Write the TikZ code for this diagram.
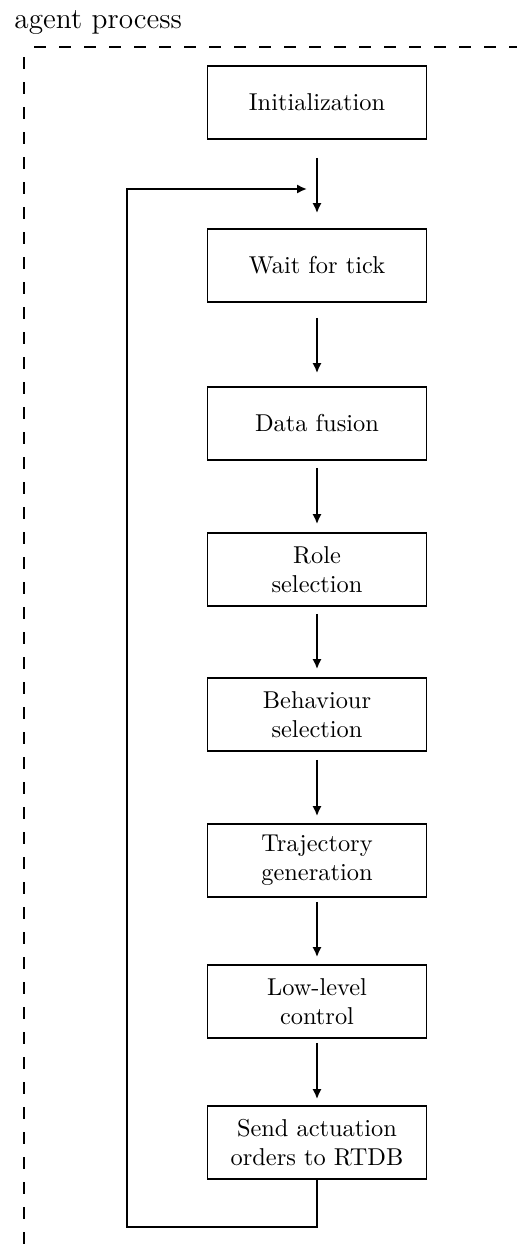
\documentclass[tikz,border=0pt]{standalone}
\usetikzlibrary{arrows.meta}
\begin{document}
\begin{tikzpicture}[x=0.41pt, y=-0.41pt,
  stepbox/.style={draw, line width=0.8pt, minimum width=89.8pt, minimum height=29.9pt,
    inner sep=2pt, align=center, font=\normalsize},
  flow/.style={line width=0.8pt, -{Latex[length=4.1pt,width=3.8pt]}},
  frame/.style={line width=0.8pt, dash pattern=on 4.9pt off 5.35pt, dash phase=6.1pt}]
\useasboundingbox (0,0) rectangle (517,1251);

% process frame, running out past the page edges
\begin{scope}
  \clip (0,0) rectangle (517,1251);
  \coordinate (fc) at (24,47);
  \coordinate (fr) at (560,47);
  \coordinate (fb) at (24,1300);
  \draw[frame] (fc) -- (fr);
  \draw[frame] (fc) -- (fb);
\end{scope}

\node[anchor=base west, font=\large, inner sep=0pt] (title) at (14,28) {agent process};

% processing steps
\node[stepbox] (init)  at (317,102.5) {Initialization};
\node[stepbox] (wait)  at (317,265.5) {Wait for tick};
\node[stepbox] (fuse)  at (317,423.5) {Data fusion};
\node[stepbox] (role)  at (317,569.5) {Role\\selection};
\node[stepbox] (behav) at (317,714.5) {Behaviour\\selection};
\node[stepbox] (traj)  at (317,860.5) {Trajectory\\generation};
\node[stepbox] (low)   at (317,1001.5) {Low-level\\control};
\node[stepbox] (send)  at (317,1142.5) {Send actuation\\orders to RTDB};

% sequence arrows
\draw[flow, shorten <=7.38pt, shorten >=6.15pt] (init.south) -- (wait.north);
\draw[flow, shorten <=6.15pt, shorten >=5.33pt] (wait.south) -- (fuse.north);
\draw[flow, shorten <=2.87pt, shorten >=3.28pt] (fuse.south) -- (role.north);
\draw[flow, shorten <=2.87pt, shorten >=3.28pt] (role.south) -- (behav.north);
\draw[flow, shorten <=3.28pt, shorten >=2.87pt] (behav.south) -- (traj.north);
\draw[flow, shorten <=1.64pt, shorten >=2.87pt] (traj.south) -- (low.north);
\draw[flow, shorten <=1.64pt, shorten >=2.46pt] (low.south) -- (send.north);

% loop back to the tick wait
\coordinate (loopend) at (307,189);
\draw[flow] (send.south) -- ++(0,47) -| (127,189) -- (loopend);
\end{tikzpicture}
\end{document}
